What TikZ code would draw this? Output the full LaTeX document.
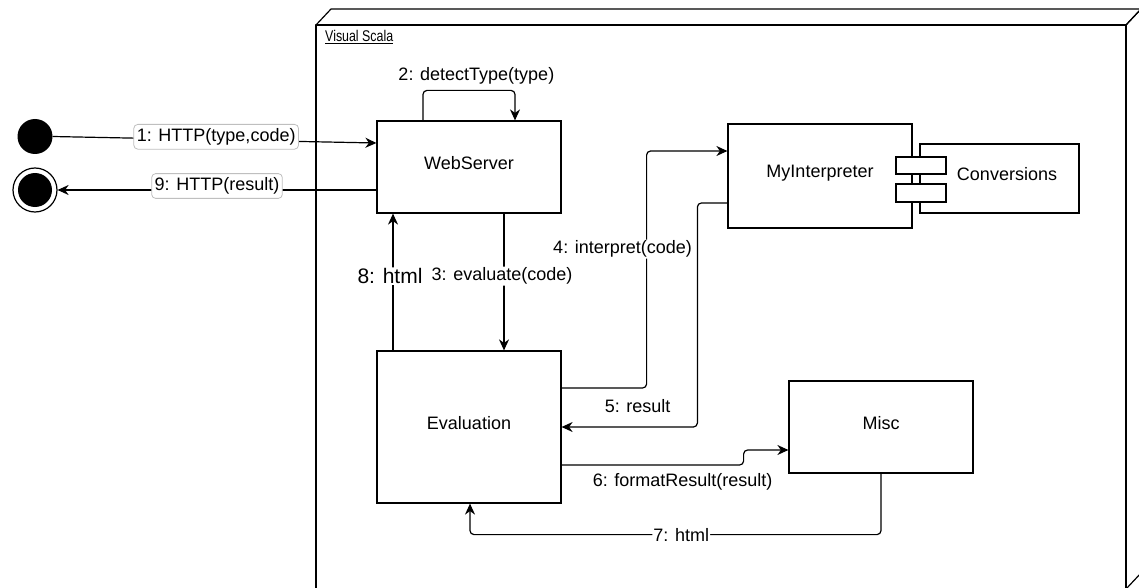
\documentclass[tikz,border=0pt]{standalone}
\usepackage{fontspec}
\setmainfont{Liberation Sans}
\usetikzlibrary{arrows.meta}
\begin{document}
\begin{tikzpicture}[x=1pt,y=-1pt,
  every node/.style={font=\fontsize{18}{21}\selectfont},
  box/.style={draw, line width=1.2pt, inner sep=0pt, text height=13pt, text depth=9pt},
  port/.style={draw, fill=white, line width=1.2pt, inner sep=0pt},
  conn/.style={line width=1.2pt, rounded corners=4pt, -{Stealth[length=11pt,width=10pt,inset=3.5pt]}},
  frameline/.style={line width=1.2pt, line join=round},
  lbl/.style={fill=white, inner sep=1pt},
  lblbox/.style={fill=white, draw=black!25, line width=0.8pt, inner xsep=3pt, inner ysep=4pt},
  bigfont/.style={font=\fontsize{21}{24}\selectfont},
]
\useasboundingbox (0,0) rectangle (1139,588);
% UML node frame
\begin{scope}
  \clip (0,0) rectangle (1139,588);
  \draw[frameline] (316,25) -- (331,9) -- (1141,9) -- (1126,25);
  \draw[frameline] (1126,25) -- (1141,9) -- (1141,573) -- (1126,589);
  \draw[frameline] (316,600) -- (316,25) -- (1126,25) -- (1126,600);
\end{scope}
\node[anchor=base west, inner sep=0pt, font=\fontsize{15.5}{18}\selectfont] (title) at (325,42) {\scalebox{0.8}[1]{\underline{Visual Scala}}};

% start / end states
\node[circle, fill=black, minimum size=35pt, inner sep=0pt] (init) at (35,136.5) {};
\node[circle, draw=black, line width=1.2pt, minimum size=44pt, inner sep=0pt] (final) at (35,190) {};
\node[circle, fill=black, minimum size=34pt, inner sep=0pt] (finalin) at (35,190) {};

% boxes
\node[box, minimum width=184pt, minimum height=92pt] (web) at (469,167) {WebServer};
\node[box, minimum width=184pt, minimum height=152pt] (eval) at (469,427) {Evaluation};
\node[box, minimum width=184pt, minimum height=104pt] (interp) at (820,176) {MyInterpreter};
\node[box, minimum width=159pt, minimum height=69pt] (conv) at (999.5,178.5) {\hspace*{15pt}Conversions};
\node[port, minimum width=50pt, minimum height=17pt] (port1) at (921,165.5) {};
\node[port, minimum width=50pt, minimum height=18pt] (port2) at (921,193) {};
\node[box, minimum width=184pt, minimum height=92pt] (misc) at (881,427) {Misc};

% connectors
\draw[conn] (init.east) -- node[lblbox, pos=0.505, yshift=3pt] {1: HTTP(type,code)} ([yshift=24pt]web.west);
\draw[conn] ([yshift=-23pt]web.west) -- node[lblbox, yshift=4pt] {9: HTTP(result)} (final.east);
\draw[conn] ([xshift=-46pt]web.north) -- ++(0,-30) -- node[pos=0.58, yshift=15pt] {2: detectType(type)} ++(92,0) -- ([xshift=46pt]web.north);
\draw[conn] ([xshift=35pt]web.south) -- node[lbl, pos=0.457, xshift=-2pt] {3: evaluate(code)} ([xshift=35pt]eval.north);
\draw[conn] ([xshift=-76pt]eval.north) -- node[lbl, bigfont, pos=0.543, xshift=-3pt] {8: html} ([xshift=-76pt]web.south);
\draw[conn] ([yshift=39pt]eval.east) -- ++(85,0) |- node[lbl, pos=0.293, xshift=-24pt] {4: interpret(code)} ([yshift=25pt]interp.west);
\draw[conn] ([yshift=-27pt]interp.west) -- ++(-30,0) |- node[pos=0.72, yshift=21pt] {5: result} (eval.east);
\draw[conn] ([yshift=-38pt]eval.east) -- node[pos=0.665, yshift=-17pt] {6: formatResult(result)} ++(182,0) -- ++(0,-15) -- ([yshift=-23pt]misc.west);
\draw[conn] (misc.south) -- ++(0,61) -| node[lbl, pos=0.243] {7: html} ([xshift=1pt]eval.south);
\end{tikzpicture}
\end{document}
